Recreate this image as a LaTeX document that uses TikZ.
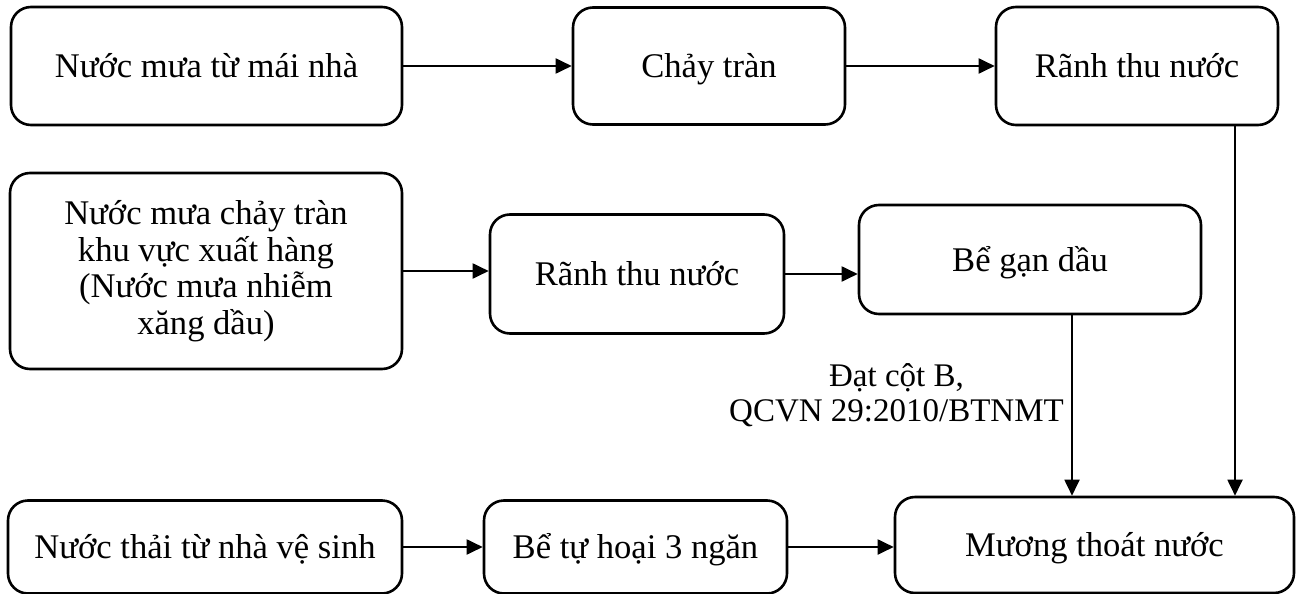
\documentclass[tikz,border=0pt]{standalone}
\usepackage{fontspec}
\setmainfont{Liberation Serif}
\usetikzlibrary{arrows.meta,calc}
\tikzset{
  box/.style={draw, line width=2.6pt, rounded corners=20pt, align=center,
    font=\fontsize{34.6}{36.5}\selectfont, inner sep=0pt},
  one/.style={text height=23pt, text depth=0pt},
  arr/.style={line width=1.9pt, -{Triangle[length=16pt,width=15pt]}},
  lbl/.style={align=center, font=\fontsize{33}{35}\selectfont, inner sep=0pt}
}
\begin{document}
\begin{tikzpicture}[x=1pt,y=-1pt]
\useasboundingbox (0,0) rectangle (1301,594);
% top row
\node[box, one, minimum width=391pt, minimum height=118pt] (b1) at (206.5,66) {Nước mưa từ mái nhà};
\node[box, one, minimum width=272pt, minimum height=117pt] (b2) at (709,66) {Chảy tràn};
\node[box, one, minimum width=282pt, minimum height=118pt] (b3) at (1137,66) {Rãnh thu nước};
% middle row
\node[box, minimum width=392pt, minimum height=196pt] (b4) at (206,271) {Nước mưa chảy tràn\\khu vực xuất hàng\\(Nước mưa nhiễm\\xăng dầu)};
\node[box, one, minimum width=294pt, minimum height=119pt] (b5) at (637,274) {Rãnh thu nước};
\node[box, one, minimum width=342pt, minimum height=109pt] (b6) at (1030,259.5) {Bể gạn dầu};
% bottom row
\node[box, one, minimum width=394pt, minimum height=93pt] (b7) at (205,547) {Nước thải từ nhà vệ sinh};
\node[box, one, minimum width=303pt, minimum height=93pt] (b8) at (635.5,547) {Bể tự hoại 3 ngăn};
\node[box, one, minimum width=399pt, minimum height=96pt] (b9) at (1094.5,545) {Mương thoát nước};
% label
\node[lbl, anchor=east] (lab) at (1064,395) {Đạt cột B,\\QCVN 29:2010/BTNMT};
% connectors
\draw[arr] (b1.east) -- (b2.west |- b1.east);
\draw[arr] (b2.east) -- (b3.west |- b2.east);
\draw[arr] (b4.east) -- (b5.west |- b4.east);
\draw[arr] (b5.east) -- (b6.west |- b5.east);
\draw[arr] (b7.east) -- (b8.west |- b7.east);
\draw[arr] (b8.east) -- (b9.west |- b8.east);
\draw[arr] ([xshift=98pt]b3.south) -- ([xshift=98pt]b3.south |- b9.north);
\draw[arr] ([xshift=42pt]b6.south) -- ([xshift=42pt]b6.south |- b9.north);
\end{tikzpicture}
\end{document}
